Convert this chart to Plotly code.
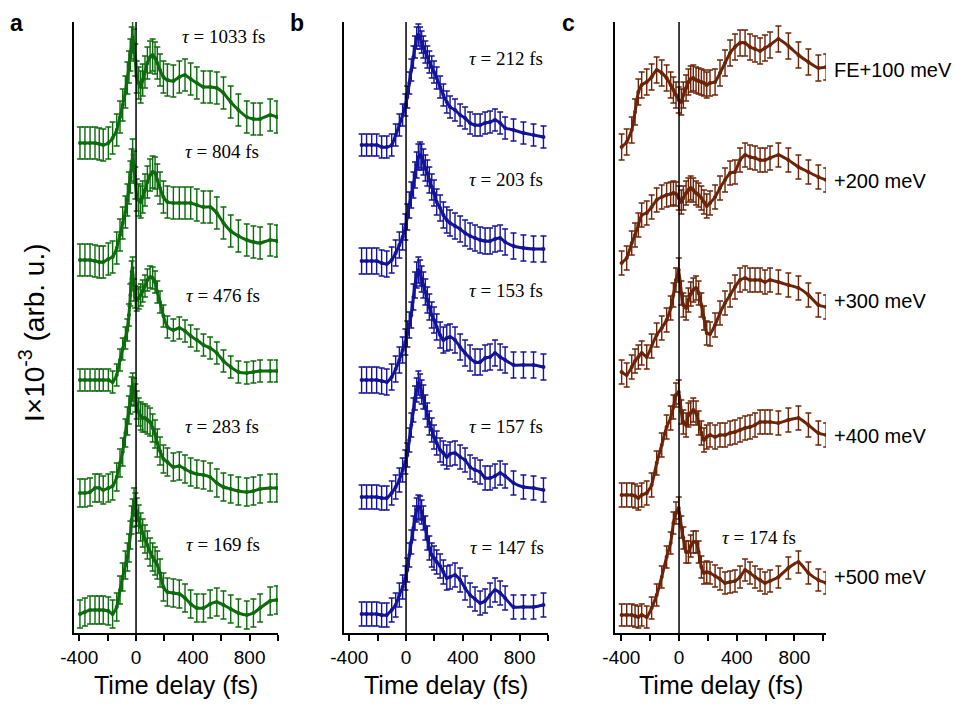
import plotly.graph_objects as go

# ---------------- data (time in fs, intensity in arb. u., traces stacked) ----------------
T_A = [-395, -360, -324, -289, -259, -231, -195, -165,
       -136, -113, -94, -75, -61, -50, -40, -31, -24, -14, -5,
       5, 19, 33, 47, 63, 80, 99, 117, 134, 150, 169, 193, 221,
       263, 305, 345, 385, 428, 475, 522, 569, 616, 667, 721, 780, 827, 874, 945, 992]

A_1033 = [4.90, 4.90, 4.90, 4.90, 4.89, 4.88, 4.90, 4.95,
          5.03, 5.16, 5.28, 5.41, 5.55, 5.66, 5.78, 5.90, 5.96, 5.88, 5.73,
          5.56, 5.50, 5.46, 5.53, 5.61, 5.70, 5.76, 5.78, 5.75, 5.70, 5.63, 5.56, 5.53,
          5.52, 5.56, 5.58, 5.54, 5.50, 5.46, 5.46, 5.45, 5.40, 5.31, 5.23, 5.16, 5.14, 5.14, 5.18, 5.16]
A_804 = [3.73, 3.73, 3.73, 3.72, 3.71, 3.71, 3.74, 3.76,
         3.85, 3.98, 4.10, 4.21, 4.33, 4.45, 4.56, 4.68, 4.78, 4.66, 4.50,
         4.38, 4.33, 4.31, 4.36, 4.43, 4.51, 4.58, 4.61, 4.60, 4.53, 4.45, 4.36, 4.31,
         4.30, 4.30, 4.30, 4.30, 4.28, 4.26, 4.26, 4.20, 4.10, 4.02, 3.97, 3.93, 3.91, 3.90, 3.93, 3.92]
A_476 = [2.53, 2.53, 2.53, 2.53, 2.53, 2.53, 2.53, 2.51,
         2.58, 2.73, 2.84, 2.95, 3.03, 3.18, 3.38, 3.61, 3.65, 3.43, 3.36,
         3.33, 3.35, 3.38, 3.42, 3.47, 3.53, 3.56, 3.55, 3.51, 3.41, 3.31, 3.17, 3.06,
         3.03, 3.05, 3.02, 2.97, 2.93, 2.88, 2.85, 2.80, 2.72, 2.66, 2.61, 2.60, 2.61, 2.62, 2.62, 2.62]
A_283 = [1.40, 1.40, 1.41, 1.45, 1.45, 1.43, 1.45, 1.47,
         1.56, 1.70, 1.81, 2.00, 2.12, 2.23, 2.33, 2.42, 2.46, 2.41, 2.35,
         2.28, 2.21, 2.17, 2.15, 2.15, 2.13, 2.11, 2.05, 1.99, 1.90, 1.82, 1.74, 1.71,
         1.66, 1.67, 1.64, 1.61, 1.59, 1.58, 1.56, 1.50, 1.46, 1.44, 1.42, 1.41, 1.42, 1.44, 1.45, 1.45]
A_169 = [0.19, 0.21, 0.23, 0.23, 0.23, 0.23, 0.22, 0.19,
         0.26, 0.43, 0.56, 0.68, 0.76, 0.85, 0.98, 1.13, 1.20, 1.31, 1.26,
         1.21, 1.14, 1.06, 1.00, 0.94, 0.88, 0.81, 0.76, 0.72, 0.68, 0.60, 0.46, 0.41,
         0.40, 0.39, 0.35, 0.29, 0.25, 0.25, 0.29, 0.31, 0.28, 0.24, 0.20, 0.18, 0.20, 0.25, 0.32, 0.33]
ERR_A = [0.16, 0.16, 0.11, 0.14, 0.14]
TAU_A = ["1033", "804", "476", "283", "169"]

T_B = [-313, -278, -242, -207, -172, -136, -101,
       -73, -47, -24, -5,
       9, 23, 37, 52, 63, 75, 87, 99, 110, 122,
       136, 150, 164, 181, 197, 216, 240, 263, 287, 310,
       345, 381, 416, 451, 486, 522, 557, 592, 627, 663, 698, 757, 827, 898, 968]

B_212 = [4.88, 4.88, 4.88, 4.88, 4.86, 4.86, 4.88,
         4.98, 5.08, 5.18, 5.28,
         5.36, 5.50, 5.63, 5.76, 5.86, 5.95, 5.98, 5.95, 5.91, 5.86,
         5.81, 5.76, 5.71, 5.66, 5.61, 5.55, 5.46, 5.38, 5.31, 5.26,
         5.23, 5.18, 5.15, 5.10, 5.08, 5.08, 5.10, 5.11, 5.13, 5.10, 5.05, 5.03, 5.00, 4.98, 4.96]
B_203 = [3.72, 3.72, 3.72, 3.72, 3.70, 3.69, 3.73,
         3.80, 3.88, 3.96, 4.06,
         4.16, 4.28, 4.38, 4.48, 4.58, 4.68, 4.76, 4.78, 4.76, 4.71,
         4.65, 4.60, 4.53, 4.46, 4.40, 4.31, 4.25, 4.18, 4.13, 4.10,
         4.07, 4.04, 4.00, 3.97, 3.95, 3.93, 3.92, 3.92, 3.94, 3.95, 3.91, 3.87, 3.85, 3.84, 3.84]
B_153 = [2.53, 2.53, 2.53, 2.53, 2.52, 2.51, 2.56,
         2.64, 2.73, 2.83, 2.91,
         2.99, 3.08, 3.18, 3.36, 3.48, 3.58, 3.63, 3.60, 3.54, 3.48,
         3.41, 3.33, 3.26, 3.18, 3.13, 3.06, 2.98, 2.93, 2.95, 2.96,
         2.93, 2.86, 2.80, 2.75, 2.71, 2.71, 2.75, 2.76, 2.80, 2.76, 2.73, 2.68, 2.68, 2.68, 2.66]
B_157 = [1.36, 1.36, 1.36, 1.36, 1.35, 1.35, 1.40,
         1.46, 1.53, 1.63, 1.71,
         1.78, 1.93, 2.08, 2.23, 2.35, 2.43, 2.50, 2.47, 2.41, 2.36,
         2.26, 2.18, 2.10, 2.03, 1.96, 1.90, 1.83, 1.80, 1.76, 1.79,
         1.80, 1.76, 1.73, 1.66, 1.63, 1.61, 1.55, 1.55, 1.57, 1.60, 1.57, 1.50, 1.46, 1.45, 1.43]
B_147 = [0.19, 0.19, 0.19, 0.19, 0.18, 0.18, 0.23,
         0.28, 0.38, 0.46, 0.55,
         0.63, 0.78, 0.91, 1.05, 1.15, 1.23, 1.26, 1.25, 1.21, 1.15,
         1.05, 0.95, 0.85, 0.78, 0.75, 0.71, 0.67, 0.61, 0.55, 0.56,
         0.58, 0.53, 0.45, 0.38, 0.34, 0.30, 0.32, 0.38, 0.43, 0.40, 0.35, 0.26, 0.26, 0.26, 0.28]
ERR_B = [0.11, 0.13, 0.13, 0.12, 0.12]
TAU_B = ["212", "203", "153", "157", "147"]

T_C = [-398, -363, -328, -305, -282, -259, -224, -190, -155, -120,
       -86, -58, -39, -21, -2,
       16, 30, 49, 65, 81, 99, 118, 136, 155, 173,
       192, 215, 250, 284, 319, 354, 388, 423, 458, 492,
       527, 562, 596, 631, 689, 758, 828, 897, 966, 1020]

C_100 = [4.86, 4.91, 5.03, 5.21, 5.41, 5.48, 5.51, 5.56, 5.63, 5.60,
         5.55, 5.48, 5.43, 5.38, 5.33,
         5.31, 5.38, 5.45, 5.51, 5.54, 5.55, 5.53, 5.52, 5.51, 5.50,
         5.48, 5.50, 5.51, 5.60, 5.70, 5.80, 5.86, 5.90, 5.90, 5.86,
         5.84, 5.82, 5.85, 5.88, 5.94, 5.87, 5.78, 5.71, 5.65, 5.66]
C_200 = [3.70, 3.75, 3.90, 3.98, 4.08, 4.18, 4.20, 4.26, 4.33, 4.36,
         4.38, 4.39, 4.40, 4.39, 4.35,
         4.31, 4.35, 4.40, 4.43, 4.45, 4.43, 4.40, 4.38, 4.35, 4.31,
         4.27, 4.30, 4.36, 4.45, 4.53, 4.60, 4.61, 4.73, 4.78, 4.76,
         4.75, 4.73, 4.73, 4.75, 4.78, 4.73, 4.66, 4.61, 4.56, 4.53]
C_300 = [2.61, 2.58, 2.66, 2.72, 2.76, 2.80, 2.76, 2.87, 2.98, 3.05,
         3.13, 3.25, 3.38, 3.53, 3.63,
         3.40, 3.28, 3.25, 3.33, 3.39, 3.43, 3.45, 3.40, 3.28, 3.15,
         3.00, 2.99, 3.08, 3.20, 3.30, 3.38, 3.46, 3.53, 3.55, 3.53,
         3.53, 3.53, 3.51, 3.53, 3.51, 3.48, 3.45, 3.38, 3.28, 3.26]
C_400 = [1.38, 1.38, 1.38, 1.37, 1.35, 1.38, 1.40, 1.48, 1.70, 1.88,
         2.06, 2.15, 2.26, 2.38, 2.41,
         2.21, 2.11, 2.08, 2.18, 2.20, 2.23, 2.20, 2.10, 2.00, 1.93,
         1.96, 1.98, 1.96, 1.98, 1.98, 2.00, 2.01, 2.03, 2.05, 2.06,
         2.08, 2.11, 2.11, 2.11, 2.10, 2.13, 2.15, 2.08, 2.00, 1.98]
C_500 = [0.18, 0.18, 0.18, 0.17, 0.16, 0.18, 0.16, 0.25, 0.38, 0.56,
         0.76, 0.90, 1.10, 1.20, 1.25,
         1.06, 0.95, 0.81, 0.81, 0.87, 0.91, 0.91, 0.81, 0.66, 0.60,
         0.61, 0.60, 0.57, 0.54, 0.50, 0.51, 0.52, 0.56, 0.63, 0.60,
         0.56, 0.53, 0.50, 0.52, 0.56, 0.65, 0.71, 0.60, 0.53, 0.50]
ERR_C = [0.13, 0.12, 0.12, 0.12, 0.11]
ENERGY_C = ["FE+100 meV", "+200 meV", "+300 meV", "+400 meV", "+500 meV"]

X_TICKS = [-400, 0, 400, 800]
X_TICK_TEXT = ["-400", "0", "400", "800"]
X_MINOR = [-200, 200, 600, 1000]

# ---------------- figure ----------------
# page body has an 8 px margin: draw a 944x691 figure so the page is 960x707
OFF = 8
W, H = 960 - 2 * OFF, 707 - 2 * OFF
GREEN, BLUE, BROWN = "#0d6b0d", "#13139a", "#6c2408"


def fx(px):
    return (px - OFF) / W


def fy(py):
    return 1 - (py - OFF) / H


panels = [
    dict(t=T_A, ys=[A_1033, A_804, A_476, A_283, A_169], err=ERR_A, color=GREEN,
         ax="", dom=(74, 278), rng=(-437, 1000)),
    dict(t=T_B, ys=[B_212, B_203, B_153, B_157, B_147], err=ERR_B, color=BLUE,
         ax="2", dom=(344, 548), rng=(-437, 1000)),
    dict(t=T_C, ys=[C_100, C_200, C_300, C_400, C_500], err=ERR_C, color=BROWN,
         ax="3", dom=(615, 826), rng=(-444, 1019)),
]

fig = go.Figure()
Y_TOP_PX, Y_BOT_PX = 22, 633
Y_RANGE = [0, (Y_BOT_PX - Y_TOP_PX) / 100.0]

for p in panels:
    for vals, e in zip(p["ys"], p["err"]):
        fig.add_trace(go.Scatter(
            x=p["t"], y=vals, mode="lines+markers",
            xaxis="x" + p["ax"], yaxis="y" + p["ax"],
            line=dict(color=p["color"], width=3, shape="spline", smoothing=0.5),
            marker=dict(color=p["color"], size=4),
            error_y=dict(type="constant", value=e, color=p["color"], thickness=1.4, width=3),
            hoverinfo="skip", showlegend=False))

layout = dict(template="none", width=W, height=H,
              margin=dict(l=0, r=0, t=0, b=0, autoexpand=False),
              paper_bgcolor="white", plot_bgcolor="white", showlegend=False,
              font=dict(family="Arial, Liberation Sans, sans-serif", color="black"))

ydom = [fy(Y_BOT_PX), fy(Y_TOP_PX)]
shapes = []
for p in panels:
    xa = "xaxis" + p["ax"]
    ya = "yaxis" + p["ax"]
    layout[xa] = dict(domain=[fx(p["dom"][0]), fx(p["dom"][1])], range=list(p["rng"]),
                      anchor="y" + p["ax"], automargin=False,
                      showline=True, linecolor="black", linewidth=1.6,
                      ticks="outside", ticklen=6, tickwidth=1.5, tickcolor="black",
                      tickvals=X_TICKS, ticktext=X_TICK_TEXT,
                      tickfont=dict(size=19, family="Arial, Liberation Sans", color="black"),
                      minor=dict(tickvals=X_MINOR, ticks="outside", ticklen=6,
                                 tickwidth=1.5, tickcolor="black", showgrid=False),
                      showgrid=False, zeroline=False, fixedrange=True)
    layout[ya] = dict(domain=ydom, range=Y_RANGE, anchor="x" + p["ax"], automargin=False,
                      showline=True, linecolor="black", linewidth=1.6,
                      showticklabels=False, ticks="", showgrid=False, zeroline=False)
    shapes.append(dict(type="line", xref="x" + p["ax"], yref="y" + p["ax"] + " domain",
                       x0=0, x1=0, y0=0, y1=1, line=dict(color="black", width=1.5)))
layout["shapes"] = shapes
fig.update_layout(**layout)


def px_ann(text, x, y, size, family="Arial, Liberation Sans", xanchor="left", **kw):
    fig.add_annotation(text=text, x=fx(x), y=fy(y), xref="paper", yref="paper",
                       xanchor=xanchor, yanchor="middle", showarrow=False,
                       font=dict(size=size, family=family, color="black"), **kw)


# panel letters (kept fully inside the figure)
for lab, x in [("a", 8), ("b", 288), ("c", 560)]:
    px_ann("<b>" + lab + "</b>", x, 23, 23)

# x titles
for p in panels:
    px_ann("Time delay (fs)", (p["dom"][0] + p["dom"][1]) / 2, 685, 25, xanchor="center")

# y title
px_ann("I×10<sup>-3</sup> (arb. u.)", 32, 333, 28, xanchor="center", textangle=-90)

# tau labels
SERIF = "Liberation Serif, Times New Roman, serif"
for tau, (x, y) in zip(TAU_A, [(180, 37), (183, 152), (184, 295), (183, 426), (184, 544)]):
    px_ann("<i>τ</i> = " + tau + " fs", x, y, 19, family=SERIF)
for tau, (x, y) in zip(TAU_B, [(467, 58), (467, 179), (467, 290), (467, 426), (468, 547)]):
    px_ann("<i>τ</i> = " + tau + " fs", x, y, 19, family=SERIF)
px_ann("<i>τ</i> = 174 fs", 720, 537, 19, family=SERIF)

# energy labels
for lab, y in zip(ENERGY_C, [70, 181, 301, 436, 577]):
    px_ann(lab, 832, y, 20)

fig.write_html("out.html")
